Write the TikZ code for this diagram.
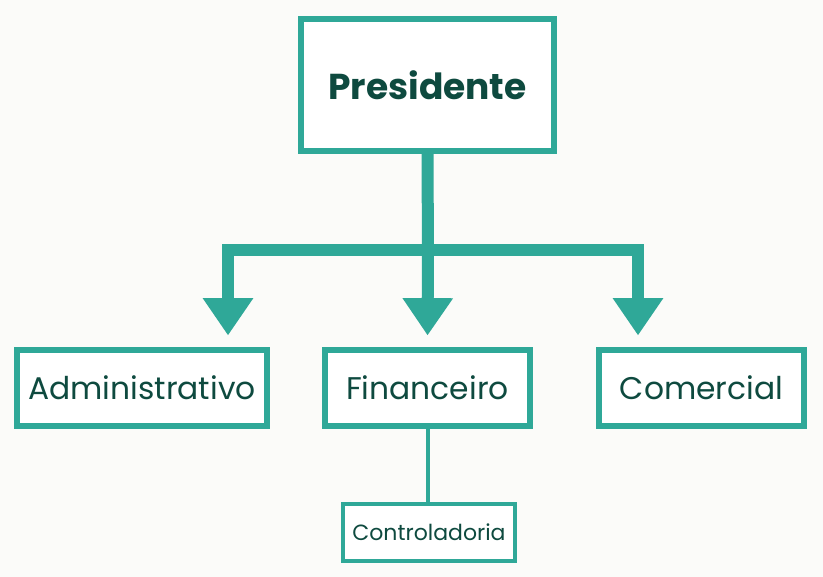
\documentclass[tikz,border=0pt]{standalone}
\usepackage{fontspec}
\setmainfont{Poppins}
\usetikzlibrary{arrows.meta}
\definecolor{teal1}{HTML}{2FA898}
\definecolor{dk}{HTML}{0E4A3F}
\definecolor{bg}{HTML}{FBFBF9}
\begin{document}
\begin{tikzpicture}[x=0.75pt,y=-0.75pt,
  box/.style={draw=teal1,line width=3.8pt,fill=white,text=dk,inner sep=0pt},
  conn/.style={draw=teal1,line width=9pt,line join=miter},
  arr/.style={conn,-{Triangle[width=36pt,length=28pt]},shorten >=9pt}]
\fill[bg] (0,0) rectangle (823,577);
\useasboundingbox (0,0) rectangle (823,577);
\node[box,minimum width=189.75pt,minimum height=99pt,font=\bfseries\fontsize{27}{32}\selectfont] (pres) at (427.5,85) {Presidente};
\node[box,minimum width=187.5pt,minimum height=57pt,font=\fontsize{23.5}{28}\selectfont] (adm) at (142,388) {Administrativo};
\node[box,minimum width=153.75pt,minimum height=57pt,font=\fontsize{23.5}{28}\selectfont] (fin) at (427.5,388) {Financeiro};
\node[box,minimum width=153.75pt,minimum height=57pt,font=\fontsize{23.5}{28}\selectfont] (com) at (701.5,388) {Comercial};
\node[box,line width=2.6pt,minimum width=129pt,minimum height=42.75pt,font=\fontsize{16.5}{20}\selectfont] (ctl) at (429,532.5) {Controladoria};
\coordinate (j) at (428,250);
\coordinate (ja) at (228,250);
\coordinate (jc) at (638,250);
\draw[conn,line cap=butt] (pres.south) -- ([yshift=-4.5pt]j);
\draw[conn,line cap=butt] ([xshift=-4.5pt]ja) -- ([xshift=4.5pt]jc);
\draw[arr] ([yshift=4.5pt]ja) -- (ja |- adm.north);
\draw[arr] ([yshift=4.5pt]j) -- (fin.north);
\draw[arr] ([yshift=4.5pt]jc) -- (jc |- com.north);
\draw[draw=teal1,line width=3pt] (fin.south) -- (fin.south |- ctl.north);
\end{tikzpicture}
\end{document}
